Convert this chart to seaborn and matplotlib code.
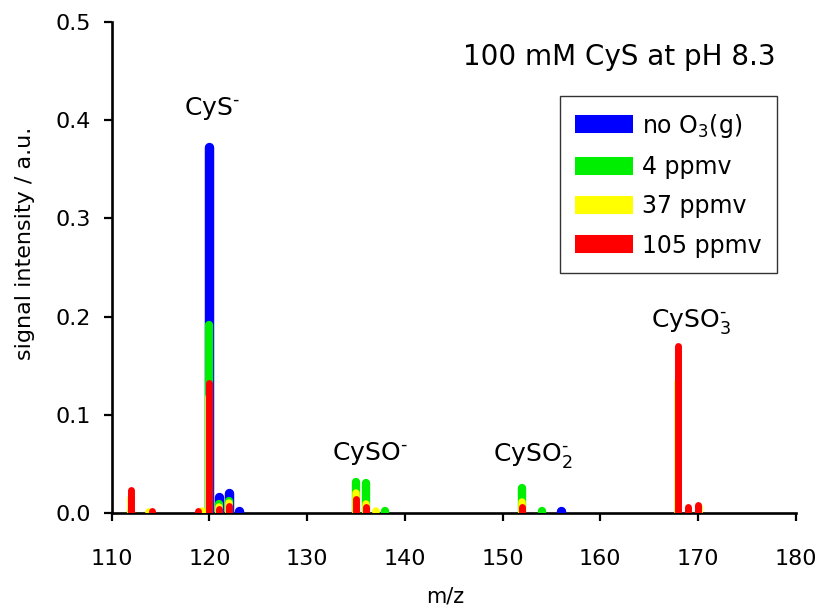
import matplotlib
matplotlib.use("Agg")
import matplotlib.pyplot as plt
from matplotlib.lines import Line2D
import seaborn as sns

# m/z and intensity for each ozone level
mz_none = [120, 121, 122, 123, 156]
int_none = [0.373, 0.017, 0.021, 0.002, 0.002]

mz_4 = [112, 120, 121, 122, 135, 136, 138, 152, 154]
int_4 = [0.001, 0.192, 0.009, 0.012, 0.032, 0.031, 0.002, 0.026, 0.002]

mz_37 = [112, 113.8, 119.2, 120, 121, 122, 135, 136, 137, 152, 168, 170.1]
int_37 = [0.016, 0.001, 0.002, 0.118, 0.006, 0.010, 0.021, 0.009, 0.002, 0.011, 0.134, 0.006]

mz_105 = [112, 114.1, 118.8, 120, 121, 122, 135, 136, 152, 168, 169, 170]
int_105 = [0.024, 0.002, 0.002, 0.133, 0.004, 0.007, 0.014, 0.006, 0.006, 0.170, 0.006, 0.008]

labels = ["no O$_3$(g)", "4 ppmv", "37 ppmv", "105 ppmv"]
colors = ["#0000ff", "#00ee00", "#ffff00", "#ff0000"]
widths = [6.8, 6.0, 5.4, 5.0]

series = [(mz_none, int_none), (mz_4, int_4), (mz_37, int_37), (mz_105, int_105)]

sns.set_theme(style="ticks")
plt.rcParams['font.family'] = ['DejaVu Sans']
plt.rcParams['text.color'] = 'black'
plt.rcParams['axes.labelcolor'] = 'black'

fig = plt.figure(figsize=(8.22, 6.11), dpi=100)
ax = fig.add_axes([0.136, 0.160, 0.832, 0.804])

for (mz, inten), c, lw in zip(series, colors, widths):
    ax.vlines(mz, 0, inten, colors=c, linewidth=lw, capstyle="round", zorder=3)

ax.set_xlim(110, 180)
ax.set_ylim(0, 0.5)
ax.set_xticks(range(110, 181, 10))
ax.set_yticks([0.0, 0.1, 0.2, 0.3, 0.4, 0.5])
ax.yaxis.set_major_formatter(matplotlib.ticker.FormatStrFormatter("%.1f"))
sns.despine(ax=ax)
for s in ["left", "bottom"]:
    ax.spines[s].set_linewidth(1.9)
    ax.spines[s].set_color("black")
ax.tick_params(axis="x", direction="out", length=6, width=1.6, pad=20,
               labelsize=16, colors="black")
ax.tick_params(axis="y", direction="out", length=6, width=1.6, pad=9,
               labelsize=16, colors="black")

ax.set_xlabel("m/z", fontsize=15)
ax.set_ylabel("signal intensity / a.u.", fontsize=16)
ax.xaxis.set_label_coords(0.488, -0.150)
ax.yaxis.set_label_coords(-0.113, 0.55)

ax.text(0.971, 0.929, "100 mM CyS at pH 8.3", transform=ax.transAxes,
        ha="right", va="center", fontsize=20)

ax.text(120.3, 0.412, r"CyS$^{\text{-}}$", ha="center", va="center", fontsize=18)
ax.text(136.4, 0.061, r"CySO$^{\text{-}}$", ha="center", va="center", fontsize=18)
ax.text(153.1, 0.059, r"CySO$_2^{\text{-}}$", ha="center", va="center", fontsize=18)
ax.text(169.3, 0.195, r"CySO$_3^{\text{-}}$", ha="center", va="center", fontsize=18)

handles = [Line2D([0], [0], color=c, linewidth=13, solid_capstyle="butt") for c in colors]
leg = ax.legend(handles, labels, loc="upper right", bbox_to_anchor=(0.972, 0.849),
                borderaxespad=0, fontsize=17, frameon=True, fancybox=False,
                handlelength=2.45, handletextpad=0.35, labelspacing=0.65,
                borderpad=0.65)
leg.get_frame().set_edgecolor("black")
leg.get_frame().set_linewidth(1.0)

fig.savefig("out.png", dpi=100)
